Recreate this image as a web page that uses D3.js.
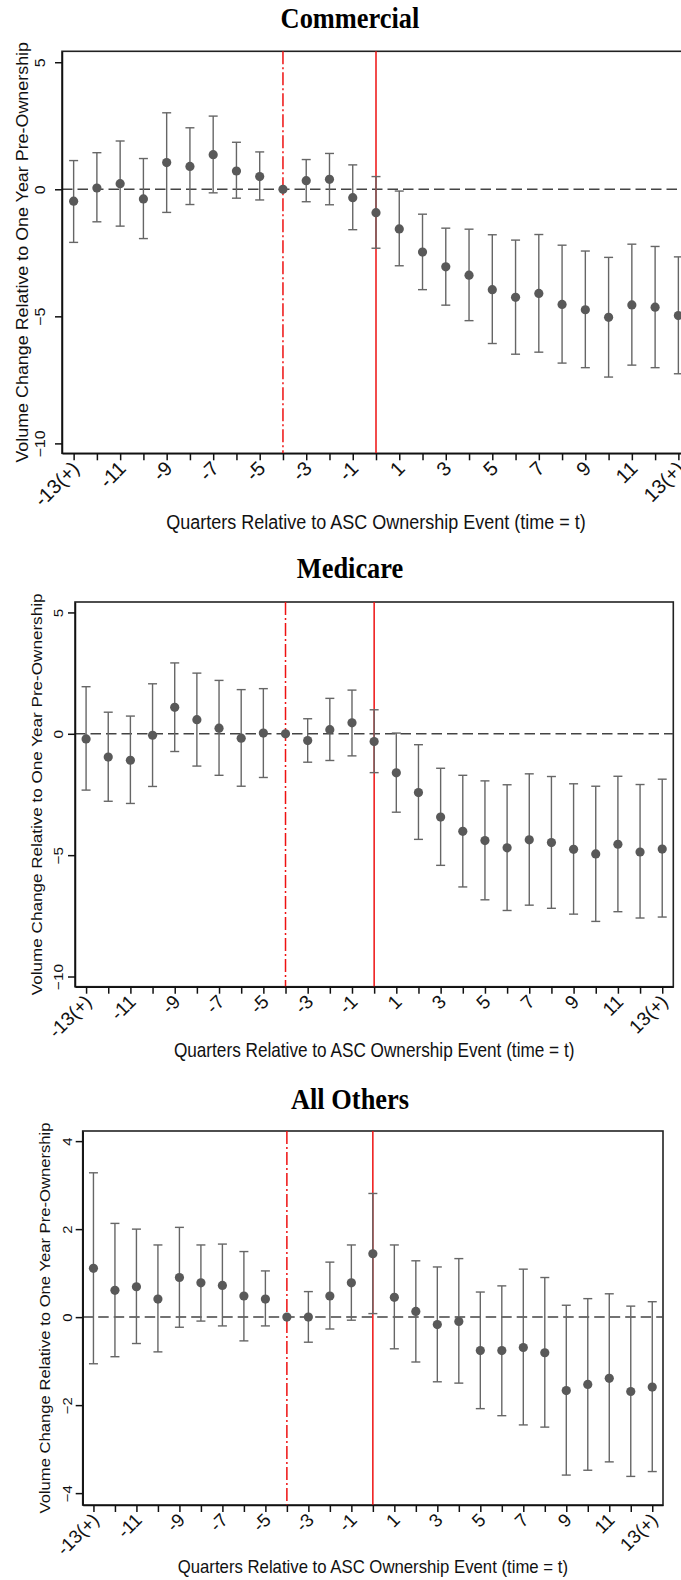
<!DOCTYPE html>
<html lang="en">
<head>
<meta charset="UTF-8"/>
<title>Volume change around ASC ownership</title>
<script src="https://d3js.org/d3.v7.min.js"></script>
<style>
    body { margin: 0; background: #fff; }
    .frame { fill: none; stroke: #222; stroke-width: 1.6; }
    .errbar { stroke: #666; stroke-width: 1.4; fill: none; }
    .dot { fill: #595959; }
    .zero { stroke: #444; stroke-width: 1.5; stroke-dasharray: 10.5,5; }
    .event { stroke: #ee1111; stroke-width: 1.5; }
    .pre { stroke: #ee1111; stroke-width: 1.5; stroke-dasharray: 13,3,2,3; }
    .axis path, .axis line { stroke: #111; stroke-width: 1.5; }
    .axis text { fill: #111; font-family: "Liberation Sans", Arial, sans-serif; }
    .title { font-family: "Liberation Serif", "Times New Roman", serif; font-weight: bold; fill: #000; }
    .axtitle { font-family: "Liberation Sans", Arial, sans-serif; fill: #111; }
</style>
</head>
<body>
<div id="chart"></div>
<script>
    // quarters relative to the ownership event
    var quarters = [-13,-12,-11,-10,-9,-8,-7,-6,-5,-4,-3,-2,-1,0,1,2,3,4,5,6,7,8,9,10,11,12,13];
    var xTickValues = [-13,-11,-9,-7,-5,-3,-1,1,3,5,7,9,11,13];
    var xTickLabels = ["-13(+)","-11","-9","-7","-5","-3","-1","1","3","5","7","9","11","13(+)"];

    // Commercial
    var commCoef = [-0.47,0.05,0.22,-0.38,1.05,0.90,1.36,0.72,0.50,0,0.34,0.39,-0.33,-0.92,-1.56,-2.47,-3.05,-3.38,-3.95,-4.25,-4.10,-4.53,-4.74,-5.04,-4.55,-4.64,-4.97];
    var commHigh = [1.13,1.44,1.90,1.21,3.01,2.42,2.88,1.85,1.47,null,1.17,1.41,0.96,0.50,-0.07,-0.98,-1.53,-1.57,-1.79,-2.00,-1.78,-2.20,-2.43,-2.68,-2.16,-2.25,-2.66];
    var commLow  = [-2.09,-1.28,-1.45,-1.94,-0.91,-0.60,-0.14,-0.35,-0.42,null,-0.49,-0.61,-1.59,-2.32,-3.01,-3.95,-4.56,-5.17,-6.07,-6.49,-6.41,-6.84,-7.02,-7.39,-6.92,-7.02,-7.26];

    // Medicare
    var mcrCoef = [-0.21,-0.96,-1.09,-0.06,1.09,0.58,0.23,-0.18,0.03,0,-0.28,0.17,0.45,-0.32,-1.61,-2.42,-3.43,-4.02,-4.40,-4.70,-4.37,-4.48,-4.76,-4.95,-4.55,-4.87,-4.75];
    var mcrHigh = [1.94,0.89,0.73,2.06,2.92,2.50,2.20,1.82,1.86,null,0.62,1.46,1.80,0.99,0.03,-0.45,-1.42,-1.71,-1.94,-2.10,-1.65,-1.76,-2.06,-2.16,-1.75,-2.09,-1.87];
    var mcrLow  = [-2.32,-2.78,-2.87,-2.17,-0.73,-1.33,-1.71,-2.16,-1.80,null,-1.17,-1.10,-0.91,-1.60,-3.23,-4.35,-5.42,-6.31,-6.84,-7.28,-7.06,-7.19,-7.43,-7.73,-7.33,-7.59,-7.55];

    // All others
    var othCoef = [1.11,0.61,0.69,0.41,0.90,0.78,0.72,0.48,0.41,0,0.00,0.48,0.78,1.44,0.45,0.13,-0.17,-0.10,-0.76,-0.76,-0.69,-0.81,-1.67,-1.53,-1.39,-1.69,-1.59];
    var othHigh = [3.28,2.13,2.00,1.64,2.04,1.64,1.66,1.49,1.05,null,0.58,1.25,1.64,2.81,1.64,1.28,1.14,1.33,0.57,0.71,1.09,0.90,0.27,0.42,0.53,0.25,0.35];
    var othLow  = [-1.06,-0.90,-0.60,-0.79,-0.23,-0.09,-0.20,-0.54,-0.20,null,-0.57,-0.27,-0.07,0.08,-0.72,-1.02,-1.47,-1.50,-2.08,-2.24,-2.45,-2.50,-3.59,-3.48,-3.29,-3.62,-3.51];

    var yTicksWide = [5,0,-5,-10];
    var yTicksNarrow = [4,2,0,-2,-4];

    var xTitle = "Quarters Relative to ASC Ownership Event (time = t)";
    var yTitle = "Volume Change Relative to One Year Pre-Ownership";

    var w = 681, h = 1580;
    var stretch = 1.13; // the source figure is a little taller than wide
    var svg = d3.select("#chart").append("svg")
        .attr("width", w).attr("height", h);

    var panels = [
        {title: "Commercial", coef: commCoef, high: commHigh, low: commLow, yTicks: yTicksWide,
         box: {l: 62, t: 51.3, r: 690, b: 453.3}, yDom: [-10.39, 5.43],
         titleY: 27.5, xTitleY: 529, yTitleX: 22, yLabX: 45, fs: 1},
        {title: "Medicare", coef: mcrCoef, high: mcrHigh, low: mcrLow, yTicks: yTicksWide,
         box: {l: 75, t: 602, r: 673.3, b: 986.7}, yDom: [-10.42, 5.43],
         titleY: 578.3, xTitleY: 1057, yTitleX: 36.5, yLabX: 62.5, fs: 0.955},
        {title: "All Others", coef: othCoef, high: othHigh, low: othLow, yTicks: yTicksNarrow,
         box: {l: 82.7, t: 1131, r: 663, b: 1505}, yDom: [-4.27, 4.23],
         titleY: 1109, xTitleY: 1573, yTitleX: 45, yLabX: 71.5, fs: 0.93}
    ];

    function drawPanel(p) {
        var b = p.box;
        var x = d3.scaleLinear().domain([-13.5, 13.5]).range([b.l, b.r]);
        var y = d3.scaleLinear().domain(p.yDom).range([b.b, b.t]);
        var g = svg.append("g");

        g.append("rect").attr("class", "frame")
            .attr("x", b.l).attr("y", b.t)
            .attr("width", b.r - b.l).attr("height", b.b - b.t);

        // reference lines
        g.append("line").attr("class", "zero")
            .attr("x1", b.l).attr("x2", b.r)
            .attr("y1", y(0)).attr("y2", y(0));
        g.append("line").attr("class", "pre")
            .attr("x1", x(-4)).attr("x2", x(-4))
            .attr("y1", b.t).attr("y2", b.b);
        g.append("line").attr("class", "event")
            .attr("x1", x(0)).attr("x2", x(0))
            .attr("y1", b.t).attr("y2", b.b);

        // x axis
        var labelMap = {};
        xTickValues.forEach((v, i) => labelMap[v] = xTickLabels[i]);
        var xAxis = d3.axisBottom(x)
            .tickValues(quarters)
            .tickSize(7)
            .tickSizeOuter(0)
            .tickFormat(d => labelMap[d] || "");
        var gx = g.append("g").attr("class", "axis")
            .attr("transform", `translate(0, ${b.b})`)
            .call(xAxis);
        gx.selectAll("text")
            .attr("y", null).attr("dy", "0.35em")
            .style("font-size", (20 * p.fs) + "px")
            .attr("text-anchor", "end")
            .attr("transform", "translate(1.5, 11.5) rotate(-45)");

        // y axis
        var yAxis = d3.axisLeft(y)
            .tickValues(p.yTicks)
            .tickSize(7)
            .tickSizeOuter(0)
            .tickFormat(d3.format("d"));
        var gy = g.append("g").attr("class", "axis")
            .attr("transform", `translate(${b.l}, 0)`)
            .call(yAxis);
        gy.selectAll("text")
            .attr("x", null).attr("dy", null).attr("y", 0)
            .style("font-size", (14.2 * p.fs) + "px")
            .attr("text-anchor", "middle")
            .attr("transform", `translate(${p.yLabX - b.l}, 0) rotate(-90) scale(${stretch}, 1)`);

        // error bars
        var idx = quarters.map((q, i) => i).filter(i => p.high[i] !== null);
        var cap = 4.5;
        var bars = g.append("g");
        bars.selectAll(".v").data(idx).enter().append("line").attr("class", "errbar")
            .attr("x1", i => x(quarters[i])).attr("x2", i => x(quarters[i]))
            .attr("y1", i => y(p.high[i])).attr("y2", i => y(p.low[i]));
        bars.selectAll(".hi").data(idx).enter().append("line").attr("class", "errbar")
            .attr("x1", i => x(quarters[i]) - cap).attr("x2", i => x(quarters[i]) + cap)
            .attr("y1", i => y(p.high[i])).attr("y2", i => y(p.high[i]));
        bars.selectAll(".lo").data(idx).enter().append("line").attr("class", "errbar")
            .attr("x1", i => x(quarters[i]) - cap).attr("x2", i => x(quarters[i]) + cap)
            .attr("y1", i => y(p.low[i])).attr("y2", i => y(p.low[i]));

        // point estimates
        g.selectAll(".dot").data(p.coef).enter().append("circle")
            .attr("class", "dot")
            .attr("cx", (d, i) => x(quarters[i]))
            .attr("cy", d => y(d))
            .attr("r", 4.6);

        // titles
        svg.append("text").attr("class", "title")
            .attr("text-anchor", "middle")
            .attr("transform", `translate(350, ${p.titleY}) scale(1, 1.1)`)
            .style("font-size", "26.4px")
            .text(p.title);
        svg.append("text").attr("class", "axtitle")
            .attr("text-anchor", "middle")
            .attr("transform", `translate(${(b.l + Math.min(b.r, 690)) / 2}, ${p.xTitleY}) scale(1, ${stretch})`)
            .style("font-size", (18 * p.fs) + "px")
            .text(xTitle);
        svg.append("text").attr("class", "axtitle")
            .attr("text-anchor", "middle")
            .attr("dy", "0.35em")
            .attr("transform", `translate(${p.yTitleX}, ${(b.t + b.b) / 2}) rotate(-90) scale(${stretch}, 1)`)
            .style("font-size", (17.9 / stretch * p.fs) + "px")
            .text(yTitle);
    }

    panels.forEach(drawPanel);
</script>
</body>
</html>
